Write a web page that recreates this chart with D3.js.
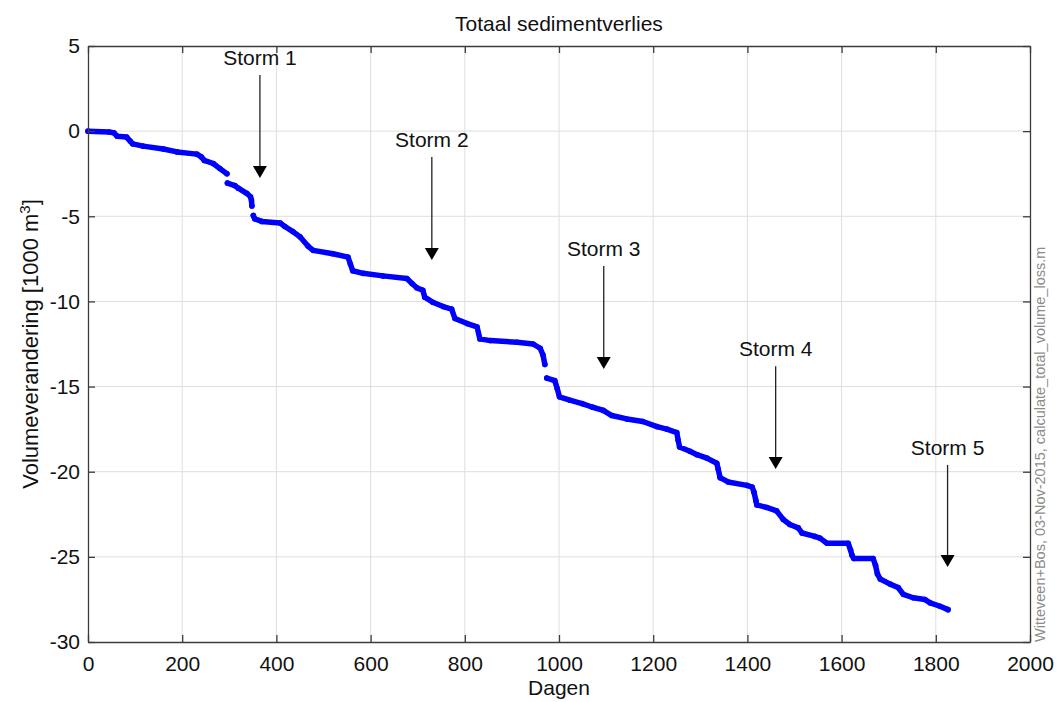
<!DOCTYPE html>
<html>
<head>
<meta charset="utf-8">
<script src="https://cdn.jsdelivr.net/npm/d3@7"></script>
<style>
  body { margin: 0; background: #fff; }
  svg { display: block; font-family: "Liberation Sans", Arial, sans-serif; }
</style>
</head>
<body>
<div id="chart"></div>
<script>
// Totaal sedimentverlies - cumulative volume change with storm markers

// Axis ticks
const xTicks = [0, 200, 400, 600, 800, 1000, 1200, 1400, 1600, 1800, 2000];
const yTicks = [5, 0, -5, -10, -15, -20, -25, -30];

// Volume change [1000 m3] per day. null = visible gap in the dots
const lossSeries = [
  [0, 0], [45, -0.05], [55, -0.1], [62, -0.3], [82, -0.35], [90, -0.6], [95, -0.75],
  [117, -0.88], [160, -1.05], [189, -1.22], [231, -1.35], [240, -1.5], [247, -1.72],
  [266, -1.9], [280, -2.2], [295, -2.5],
  null,
  [296, -3.05], [312, -3.2], [319, -3.35], [337, -3.65], [345, -3.85], [347, -4.05], [348, -4.4],
  null,
  [351, -4.95], [354, -5.15], [369, -5.3], [408, -5.4], [418, -5.6], [435, -5.9], [450, -6.2],
  [467, -6.75], [478, -7.0], [520, -7.2], [552, -7.4], [557, -7.8], [562, -8.2], [584, -8.35],
  [626, -8.5], [677, -8.65], [688, -8.95], [698, -9.2], [711, -9.35], [715, -9.75], [732, -10.05],
  [754, -10.3], [772, -10.45], [779, -11.0], [805, -11.3], [826, -11.5], [832, -12.2], [854, -12.3],
  [911, -12.4], [945, -12.5], [960, -12.75], [966, -13.15], [970, -13.7],
  null,
  [974, -14.5], [991, -14.65], [996, -15.1], [1001, -15.6], [1023, -15.8], [1049, -16.0],
  [1070, -16.2], [1094, -16.4], [1112, -16.7], [1144, -16.9], [1178, -17.05], [1208, -17.35],
  [1229, -17.5], [1250, -17.7], [1253, -18.15], [1256, -18.55], [1278, -18.8], [1293, -19.0],
  [1314, -19.2], [1335, -19.5], [1338, -19.85], [1342, -20.35], [1359, -20.6], [1399, -20.8],
  [1410, -20.9], [1414, -21.2], [1418, -21.7], [1420, -21.95], [1441, -22.1], [1462, -22.3],
  [1476, -22.8], [1490, -23.1], [1508, -23.3], [1516, -23.6], [1543, -23.8], [1554, -23.9],
  [1569, -24.2], [1614, -24.2], [1619, -24.6], [1622, -24.9], [1626, -25.1], [1667, -25.1],
  [1672, -25.5], [1676, -26.0], [1682, -26.3], [1703, -26.6], [1720, -26.8], [1731, -27.2],
  [1752, -27.4], [1777, -27.5], [1788, -27.7], [1809, -27.9], [1826, -28.1]
];

// Storm annotations
const stormNames = ['Storm 1', 'Storm 2', 'Storm 3', 'Storm 4', 'Storm 5'];
const stormDays = [365, 730, 1095, 1460, 1825];
const stormArrowTop = [3.3, -1.52, -7.92, -13.8, -19.6];
const stormArrowTip = [-2.75, -7.57, -13.97, -19.84, -25.6];

class LossChart {
  constructor(containerId, options = {}) {
    this.container = d3.select(containerId);
    this.width = options.width || 1057;
    this.height = options.height || 702;
    this.margin = options.margin || { top: 46, right: 27, bottom: 60, left: 88 };
    this.axisColor = '#3c3c3c';
    this.init();
  }

  init() {
    this.container.html('');
    this.svg = this.container.append('svg')
      .attr('width', this.width)
      .attr('height', this.height);

    const m = this.margin;
    this.x = d3.scaleLinear().domain([0, 2000]).range([m.left, this.width - m.right]);
    this.y = d3.scaleLinear().domain([-30, 5]).range([this.height - m.bottom, m.top]);
  }

  render() {
    this.drawGrid();
    this.drawSeries();
    this.drawAxes();
    this.drawStorms();
    this.drawLabels();
  }

  drawGrid() {
    const [x0, x1] = this.x.range();
    const [y0, y1] = this.y.range();
    const grid = this.svg.append('g').attr('class', 'grid')
      .attr('stroke', '#dedede').attr('stroke-width', 1);

    grid.selectAll('.gx').data(xTicks.slice(1, -1)).enter().append('line')
      .attr('x1', d => this.x(d)).attr('x2', d => this.x(d))
      .attr('y1', y1).attr('y2', y0);

    grid.selectAll('.gy').data(yTicks.slice(1, -1)).enter().append('line')
      .attr('x1', x0).attr('x2', x1)
      .attr('y1', d => this.y(d)).attr('y2', d => this.y(d));
  }

  drawSeries() {
    const line = d3.line()
      .defined(d => d !== null)
      .x(d => this.x(d[0]))
      .y(d => this.y(d[1]));

    this.svg.append('path')
      .datum(lossSeries)
      .attr('d', line)
      .attr('fill', 'none')
      .attr('stroke', '#0000ff')
      .attr('stroke-width', 5.5)
      .attr('stroke-linecap', 'round')
      .attr('stroke-linejoin', 'round');

    this.svg.append('g').selectAll('circle')
      .data(lossSeries.filter(d => d !== null))
      .enter().append('circle')
      .attr('cx', d => this.x(d[0]))
      .attr('cy', d => this.y(d[1]))
      .attr('r', 2.8)
      .attr('fill', '#0000ff');
  }

  drawAxes() {
    const [x0, x1] = this.x.range();
    const [y0, y1] = this.y.range();
    const fmt = d => String(d);

    const styleAxis = g => {
      g.select('.domain').attr('stroke', this.axisColor).attr('stroke-width', 1.3);
      g.selectAll('.tick line').attr('stroke', this.axisColor).attr('stroke-width', 1.3);
      g.selectAll('.tick text').attr('fill', '#111').style('font-size', '21px');
      g.attr('font-family', null);
    };

    this.svg.append('g')
      .attr('transform', `translate(0,${y0})`)
      .call(d3.axisBottom(this.x).tickValues(xTicks).tickFormat(fmt)
        .tickSize(-7).tickSizeOuter(0).tickPadding(14))
      .call(styleAxis);

    this.svg.append('g')
      .attr('transform', `translate(0,${y1})`)
      .call(d3.axisTop(this.x).tickValues(xTicks).tickFormat('')
        .tickSize(-7).tickSizeOuter(0))
      .call(styleAxis);

    this.svg.append('g')
      .attr('transform', `translate(${x0},0)`)
      .call(d3.axisLeft(this.y).tickValues(yTicks).tickFormat(fmt)
        .tickSize(-7).tickSizeOuter(0).tickPadding(8))
      .call(styleAxis);

    this.svg.append('g')
      .attr('transform', `translate(${x1},0)`)
      .call(d3.axisRight(this.y).tickValues(yTicks).tickFormat('')
        .tickSize(-7).tickSizeOuter(0))
      .call(styleAxis);
  }

  drawStorms() {
    const storms = stormNames.map((name, i) => ({
      name, day: stormDays[i], top: stormArrowTop[i], tip: stormArrowTip[i]
    }));
    const g = this.svg.append('g').attr('class', 'storms');
    const head = 12, halfW = 7;

    const items = g.selectAll('.storm').data(storms).enter().append('g');

    items.append('line')
      .attr('x1', d => this.x(d.day)).attr('x2', d => this.x(d.day))
      .attr('y1', d => this.y(d.top)).attr('y2', d => this.y(d.tip) - head)
      .attr('stroke', '#222').attr('stroke-width', 1.3);

    items.append('path')
      .attr('d', d => {
        const cx = this.x(d.day), ty = this.y(d.tip);
        return `M${cx - halfW},${ty - head}L${cx + halfW},${ty - head}L${cx},${ty}Z`;
      })
      .attr('fill', '#000');

    items.append('text')
      .attr('x', d => this.x(d.day))
      .attr('y', d => this.y(d.top) - 10)
      .attr('text-anchor', 'middle')
      .style('font-size', '21px')
      .attr('fill', '#111')
      .text(d => d.name);
  }

  drawLabels() {
    const [x0, x1] = this.x.range();
    const [y0, y1] = this.y.range();

    // Title
    this.svg.append('text')
      .attr('x', (x0 + x1) / 2).attr('y', 31)
      .attr('text-anchor', 'middle')
      .style('font-size', '21px').attr('fill', '#111')
      .text('Totaal sedimentverlies');

    // X label
    this.svg.append('text')
      .attr('x', (x0 + x1) / 2).attr('y', 695)
      .attr('text-anchor', 'middle')
      .style('font-size', '21px').attr('fill', '#111')
      .text('Dagen');

    // Y label with superscript
    const yl = this.svg.append('text')
      .attr('transform', `translate(38,${(y0 + y1) / 2}) rotate(-90)`)
      .attr('text-anchor', 'middle')
      .style('font-size', '22px').attr('fill', '#111');
    yl.append('tspan').text('Volumeverandering [1000 m');
    yl.append('tspan').attr('dy', -8).style('font-size', '15px').text('3');
    yl.append('tspan').attr('dy', 8).text(']');

    // Source stamp on the right
    this.svg.append('text')
      .attr('transform', `translate(1045,${y0}) rotate(-90)`)
      .attr('text-anchor', 'start')
      .style('font-size', '14.5px').attr('fill', '#8c8c8c')
      .text('Witteveen+Bos, 03-Nov-2015, calculate_total_volume_loss.m');
  }
}

const chart = new LossChart('#chart');
chart.render();
</script>
</body>
</html>
